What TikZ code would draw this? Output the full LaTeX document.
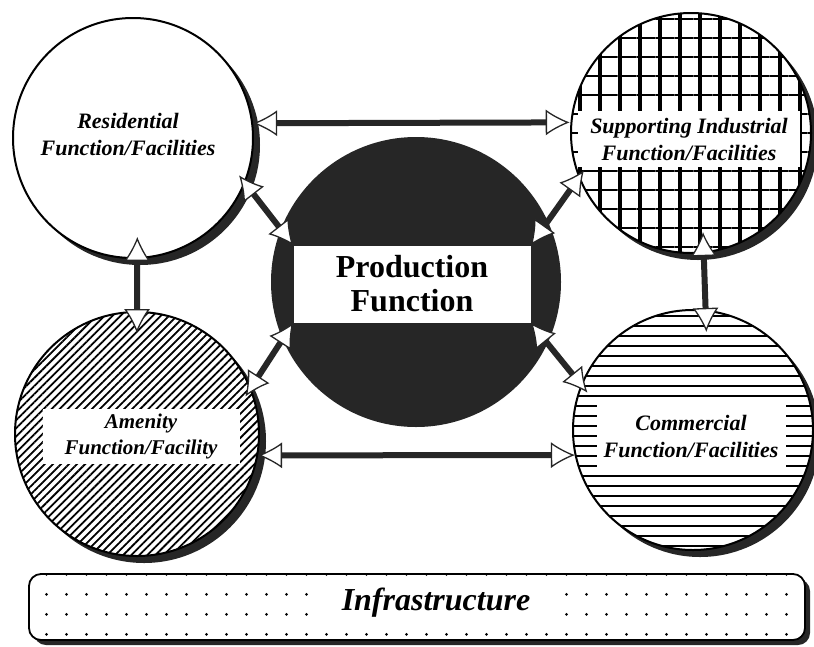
\documentclass[tikz,border=0pt]{standalone}
\usepackage{fontspec}
\setmainfont{Liberation Serif}
\usetikzlibrary{arrows.meta,patterns.meta,shadows}

\tikzset{
  func/.style={circle,minimum size=240pt,inner sep=0pt,draw=black,line width=2pt,
    drop shadow={shadow xshift=7pt,shadow yshift=-7pt,fill=black!85,opacity=1},
    preaction={fill=white}},
  funclabel/.style={align=center,inner sep=0pt,
    font=\fontsize{22}{27}\selectfont\bfseries\itshape},
  linktip/.tip={Latex[length=24pt,width=26pt,fill=white,line width=1.3pt]},
  link/.style={line width=6pt,draw=black!85,linktip-linktip},
}

\begin{document}
\begin{tikzpicture}[x=1pt,y=-1pt]
    \fill[white] (0,0) rectangle (814,646);
    \useasboundingbox (0,0) rectangle (814,646);
    % the four functions round the centre
    \node[func] (res) at (133,138) {};
    \node[func,pattern={Lines[angle=90,distance=20pt,line width=3.5pt]},
      postaction={pattern={Lines[angle=0,distance=19pt,line width=1.5pt]}}] (sup) at (691,133) {};
    \node[func,minimum size=244pt,pattern={Lines[angle=45,distance=5.7pt,line width=1.8pt]}] (ame) at (137,434) {};
    \node[func,pattern={Lines[angle=0,distance=10pt,line width=1.4pt]}] (com) at (693,430) {};
    \node[funclabel] (resText) at (128,134) {Residential\\Function/Facilities};
    \node[funclabel,fill=white,minimum width=222pt,minimum height=56pt] (supText) at (689,139) {Supporting Industrial\\Function/Facilities};
    \node[funclabel,fill=white,minimum width=197pt,minimum height=55pt,
      font=\fontsize{21}{26}\selectfont\bfseries\itshape] (ameText) at (141,436) {Amenity\\Function/Facility};
    \node[funclabel,fill=white,minimum width=189pt,minimum height=62pt] (comText) at (691,436) {Commercial\\Function/Facilities};
    % production in the middle
    \node[circle,minimum size=290pt,fill=black!85] (prod) at (416,282) {};
    \node[fill=white,minimum width=237pt,minimum height=77pt,inner sep=0pt,align=center,
      font=\fontsize{32}{34}\selectfont\bfseries] (pbox) at (412,284) {Production\\Function};
    % infrastructure
    \node[draw=black,line width=1.8pt,rounded corners=12pt,minimum width=776pt,minimum height=66pt,
      drop shadow={shadow xshift=5pt,shadow yshift=-5pt,fill=black!85,opacity=1},
      preaction={fill=white},
      pattern={Dots[radius=1.6pt,distance=19.5pt,xshift=8pt,yshift=-7pt]}] (infra) at (417,607) {};
    \node[fill=white,minimum width=245pt,minimum height=40pt,inner sep=0pt,
      font=\fontsize{32}{34}\selectfont\bfseries\itshape] (infraText) at (436,603) {Infrastructure};
    % links
    \draw[link] (res.7) -- (sup.175);
    \draw[link] (ame.-10) -- (com.192);
    \draw[link,shorten <=-22pt,shorten >=-22pt] (res.-88) -- (ame.90);
    \draw[link,shorten <=-22pt,shorten >=-22pt] (sup.-84) -- (com.84);
    \draw[link,shorten <=-10pt] (res.-22) -- (pbox.north west);
    \draw[link,shorten <=-10pt] (sup.202) -- (pbox.north east);
    \draw[link,shorten <=-10pt] (ame.22) -- (pbox.south west);
    \draw[link,shorten <=-10pt] (com.158) -- (pbox.south east);
\end{tikzpicture}
\end{document}
